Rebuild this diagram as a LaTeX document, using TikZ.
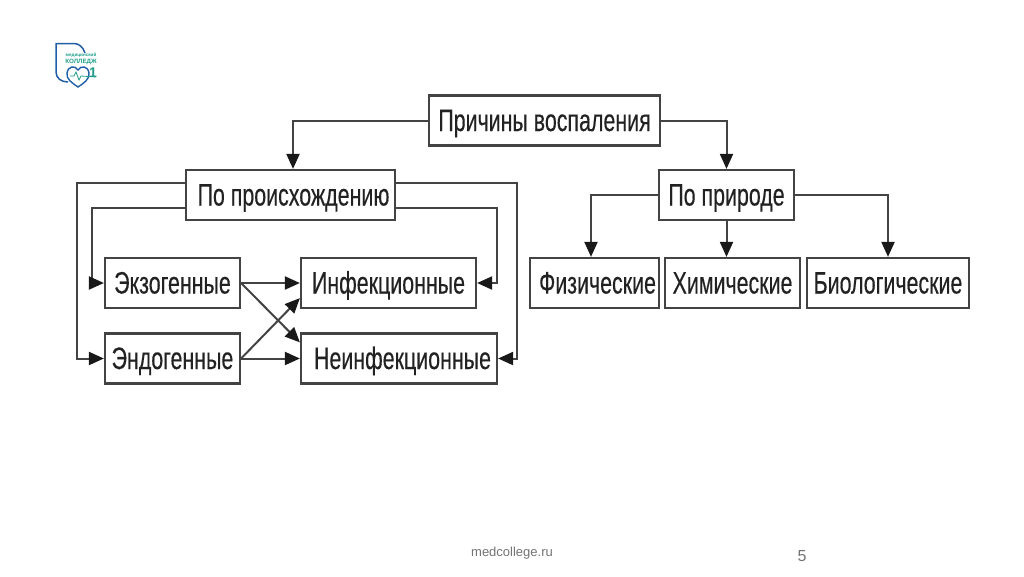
\documentclass[tikz,border=0pt]{standalone}
\usepackage{fontspec}
\setmainfont{Liberation Sans}
\newfontfamily\boxfont[FakeStretch=0.69,FakeBold=0.3]{Liberation Sans}
\usetikzlibrary{arrows.meta,calc}
\definecolor{ink}{HTML}{222222}
\definecolor{logoblue}{HTML}{1F5FA8}
\definecolor{logoteal}{HTML}{1E9E8A}
\tikzset{
 x=1pt,y=-1pt,
 cbox/.style={draw=ink!85,line width=2.2pt,fill=white,inner sep=0pt,minimum height=50pt,font=\boxfont\fontsize{31}{31}\selectfont,text=ink,text height=25.5pt,text depth=4.5pt},
 conn/.style={draw=ink!85,line width=2pt,-{Triangle[length=15pt,width=13pt,fill=black!90,color=black!90]}},
 foot/.style={font=\fontsize{13}{13}\selectfont,text=black!55,inner sep=0pt},
}
\begin{document}
\begin{tikzpicture}
\useasboundingbox (0,0) rectangle (1024,576);
\node[cbox,minimum width=231pt] (root) at (544.5,120.5) {Причины воспаления};
\node[cbox,minimum width=209pt] (orig) at (290.5,195) {\hspace*{6pt}По происхождению};
\node[cbox,minimum width=135pt] (nat) at (726.5,195) {По природе};
\node[cbox,minimum width=135pt] (exo) at (172.5,283) {Экзогенные};
\node[cbox,minimum width=135pt] (endo) at (172.5,358.5) {Эндогенные};
\node[cbox,minimum width=175pt] (inf) at (388.5,283) {Инфекционные};
\node[cbox,minimum width=196pt] (non) at (399,358.5) {\hspace*{7pt}Неинфекционные};
\node[cbox,minimum width=129pt] (phy) at (594.5,283) {\hspace*{6pt}Физические};
\node[cbox,minimum width=135pt] (che) at (732.5,283) {Химические};
\node[cbox,minimum width=162pt] (bio) at (888,283) {Биологические};
\draw[conn] (root.west) -| ([xshift=2.5pt]orig.north);
\draw[conn] (root.east) -| (nat.north);
\draw[conn] (nat.west) -| ([xshift=-3.5pt]phy.north);
\draw[conn] (nat.south) -- (nat.south |- che.north);
\draw[conn] (nat.east) -| (bio.north);
\coordinate (ol1) at (77,183);
\coordinate (ol2) at (92,208);
\coordinate (or1) at (517,183);
\coordinate (or2) at (497,208);
\draw[conn] (orig.west |- ol1) -- (ol1) |- (endo.west);
\draw[conn] (orig.west |- ol2) -- (ol2) |- (exo.west);
\draw[conn] (orig.east |- or1) -- (or1) |- (non.east);
\draw[conn] (orig.east |- or2) -- (or2) |- (inf.east);
\draw[conn] (exo.east) -- (inf.west);
\draw[conn] (endo.east) -- (non.west);
\draw[conn] (exo.east) -- ([yshift=-10pt]non.north west);
\draw[conn] (endo.east) -- ([yshift=11pt]inf.south west);
% logo
\draw[logoblue,line width=1.5pt] (85,53) .. controls (83,47) and (79,43.5) .. (74,43.5) -- (56,43.5) -- (56,72) .. controls (56,78) and (61,82) .. (68,82);
\node[font=\bfseries\fontsize{4.6}{5}\selectfont,text=logoteal,inner sep=0pt] (lg1) at (81,55) {медицинский};
\node[font=\bfseries\fontsize{6.2}{6}\selectfont,text=logoteal,inner sep=0pt] (lg2) at (81,62) {КОЛЛЕДЖ};
\draw[logoblue,line width=1.4pt,fill=white] (78,87) .. controls (72,83) and (66,79) .. (67,73)
  .. controls (68,66) and (75,65) .. (78,70) .. controls (81,65) and (88,66) .. (89,73) .. controls (90,79) and (84,83) .. (78,87) -- cycle;
\draw[logoteal,line width=.8pt] (70,76) -- (74,76) -- (76,72) -- (79,80) -- (81,76) -- (96,77);
\node[font=\bfseries\fontsize{14}{14}\selectfont,text=logoteal,inner sep=0pt] (lg3) at (93,73) {1};
% footer
\node[foot] (fa) at (512,553) {medcollege.ru};
\node[foot,font=\fontsize{16}{16}\selectfont] (fb) at (802,556) {5};
\end{tikzpicture}
\end{document}
